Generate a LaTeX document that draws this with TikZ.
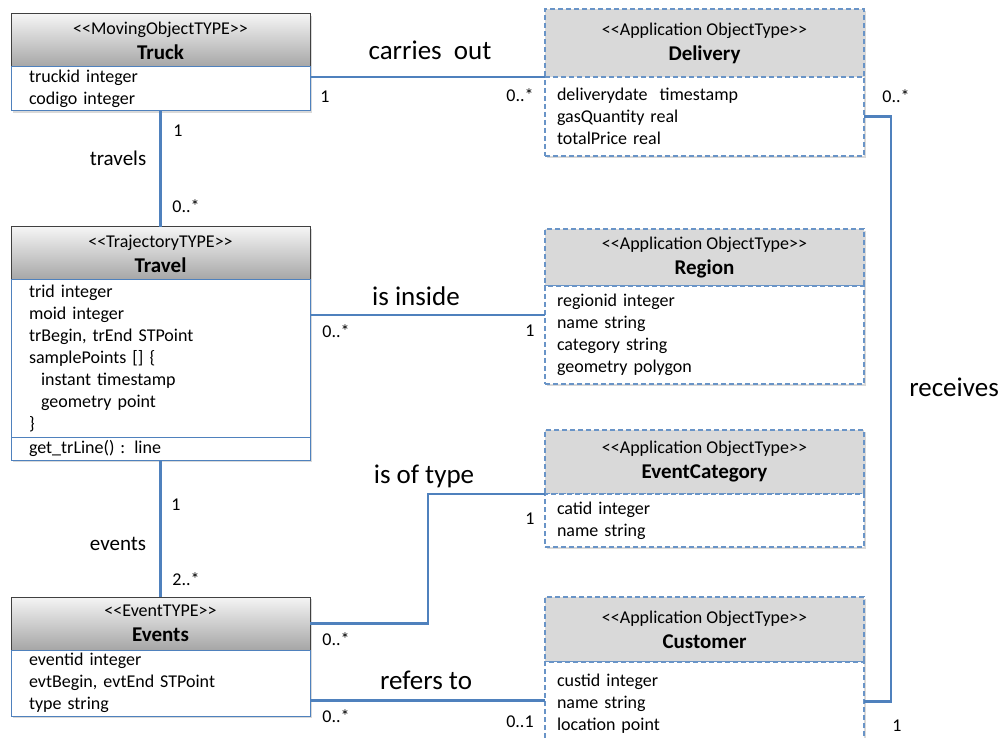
\documentclass[tikz,border=0pt]{standalone}
\usepackage{fontspec}
\setmainfont{Carlito}
\usetikzlibrary{positioning,shadows}

\definecolor{umlblue}{HTML}{4F81BD}
\newcommand{\stereo}[1]{<\kern0pt<#1>\kern0pt>}
\newcommand{\clsname}[1]{{\fontsize{21}{25}\selectfont\bfseries #1}}

\begin{document}
\begin{tikzpicture}[x=1pt,y=-1pt,
  every node/.style={outer sep=0pt},
  boxshadow/.style={drop shadow={shadow xshift=2pt,shadow yshift=-2pt,opacity=.3}},
  mohead/.style={draw=black!75,line width=1pt,top color=gray!8,bottom color=gray!70,
    minimum width=299pt,align=center,font=\fontsize{18}{25}\selectfont,boxshadow},
  mobody/.style={draw=umlblue,line width=1pt,fill=white,minimum width=299pt,
    text width=263pt,inner xsep=18pt,inner ysep=2pt,align=left,
    font=\fontsize{18}{22}\selectfont,boxshadow},
  apphead/.style={draw=umlblue!85,line width=1.4pt,dash pattern=on 5pt off 3pt,fill=gray!30,
    minimum width=319pt,align=center,font=\fontsize{18}{25}\selectfont,boxshadow},
  appbody/.style={draw=umlblue!85,line width=1.4pt,dash pattern=on 5pt off 3pt,fill=white,
    minimum width=319pt,text width=295pt,inner xsep=12pt,inner ysep=2pt,align=left,
    font=\fontsize{18}{22}\selectfont,boxshadow},
  assoc/.style={draw=umlblue,line width=2.5pt},
  role/.style={font=\fontsize{27}{30}\selectfont},
  linklbl/.style={font=\fontsize{21}{24}\selectfont},
  mult/.style={font=\fontsize{18}{20}\selectfont}]
  \useasboundingbox (0,0) rectangle (1002,738);

  % moving object side
  \node[mohead,anchor=north west,minimum height=53pt] (truckH) at (11,14) {\stereo{MovingObjectTYPE}\\\clsname{Truck}};
  \node[mobody,below=0pt of truckH,minimum height=44pt] (truck) {truckid integer\\codigo integer};

  \node[mohead,anchor=north west,minimum height=53pt] (travelH) at (11,227) {\stereo{TrajectoryTYPE}\\\clsname{Travel}};
  \node[mobody,below=0pt of travelH,minimum height=157pt] (travel) {trid integer\\moid integer\\trBegin, trEnd STPoint\\samplePoints [] \{\\\hspace*{12pt}instant timestamp\\\hspace*{12pt}geometry point\\\}};
  \node[mobody,below=0pt of travel,minimum height=23pt] (travelOp) {get\_trLine() : line};

  \node[mohead,anchor=north west,minimum height=53pt] (eventsH) at (11,597) {\stereo{EventTYPE}\\\clsname{Events}};
  \node[mobody,below=0pt of eventsH,minimum height=66pt] (events) {eventid integer\\evtBegin, evtEnd STPoint\\type string};

  % application objects
  \node[apphead,anchor=north west,minimum height=68pt] (deliveryH) at (545,9) {\stereo{Application ObjectType}\\\clsname{Delivery}};
  \node[appbody,below=0pt of deliveryH,minimum height=79pt] (delivery) {deliverydate\ \ timestamp\\gasQuantity real\\totalPrice real};

  \node[apphead,anchor=north west,minimum height=57pt] (regionH) at (545,229) {\stereo{Application ObjectType}\\\clsname{Region}};
  \node[appbody,below=0pt of regionH,minimum height=98pt] (region) {regionid integer\\name string\\category string\\geometry polygon};

  \node[apphead,anchor=north west,minimum height=64pt] (evcatH) at (545,430) {\stereo{Application ObjectType}\\\clsname{EventCategory}};
  \node[appbody,below=0pt of evcatH,minimum height=53pt] (evcat) {catid integer\\name string};

  \node[apphead,anchor=north west,minimum height=65pt] (customerH) at (545,597) {\stereo{Application ObjectType}\\\clsname{Customer}};
  \node[appbody,below=0pt of customerH,minimum height=83pt] (customer) {custid integer\\name string\\location point};

  % associations
  \coordinate (insideEnd) at ([yshift=20pt]region.west);
  \coordinate (refersEnd) at ([yshift=3pt]customer.west);
  \draw[assoc] (delivery.north west) -- (delivery.north west -| truck.east);
  \draw[assoc] (truck.south) -- (travelH.north);
  \draw[assoc] (insideEnd) -- (insideEnd -| travel.east);
  \draw[assoc] (travelOp.south) -- (eventsH.north);
  \draw[assoc] (eventsH.east) -- ++(118,0) |- (evcat.north west);
  \draw[assoc] (refersEnd) -- (refersEnd -| events.east);
  \draw[assoc] (delivery.east) -- ++(27,0) |- ([yshift=2pt]customer.east);

  % labels
  \node[role] (carriesLbl) at (430,50) {carries\ \ out};
  \node[mult] (m1) at (325,97) {1};
  \node[mult] (m2) at (520,95) {0..*};
  \node[mult] (m3) at (178,131) {1};
  \node[linklbl] (travelsLbl) at (118,158) {travels};
  \node[mult] (m4) at (186,206) {0..*};
  \node[role] (insideLbl) at (416,296) {is inside};
  \node[mult] (m5) at (336,331) {0..*};
  \node[mult] (m6) at (530,331) {1};
  \node[mult] (m7) at (176,505) {1};
  \node[linklbl] (eventsLbl) at (118,544) {events};
  \node[mult] (m8) at (186,579) {2..*};
  \node[role] (typeLbl) at (424,476) {is of type};
  \node[mult] (m9) at (336,639) {0..*};
  \node[mult] (m10) at (530,519) {1};
  \node[role] (refersLbl) at (426,680) {refers to};
  \node[mult] (m11) at (336,716) {0..*};
  \node[mult] (m12) at (520,722) {0..1};
  \node[mult] (m13) at (896,96) {0..*};
  \node[role] (receivesLbl) at (954,387) {receives};
  \node[mult] (m14) at (897,726) {1};
\end{tikzpicture}
\end{document}
